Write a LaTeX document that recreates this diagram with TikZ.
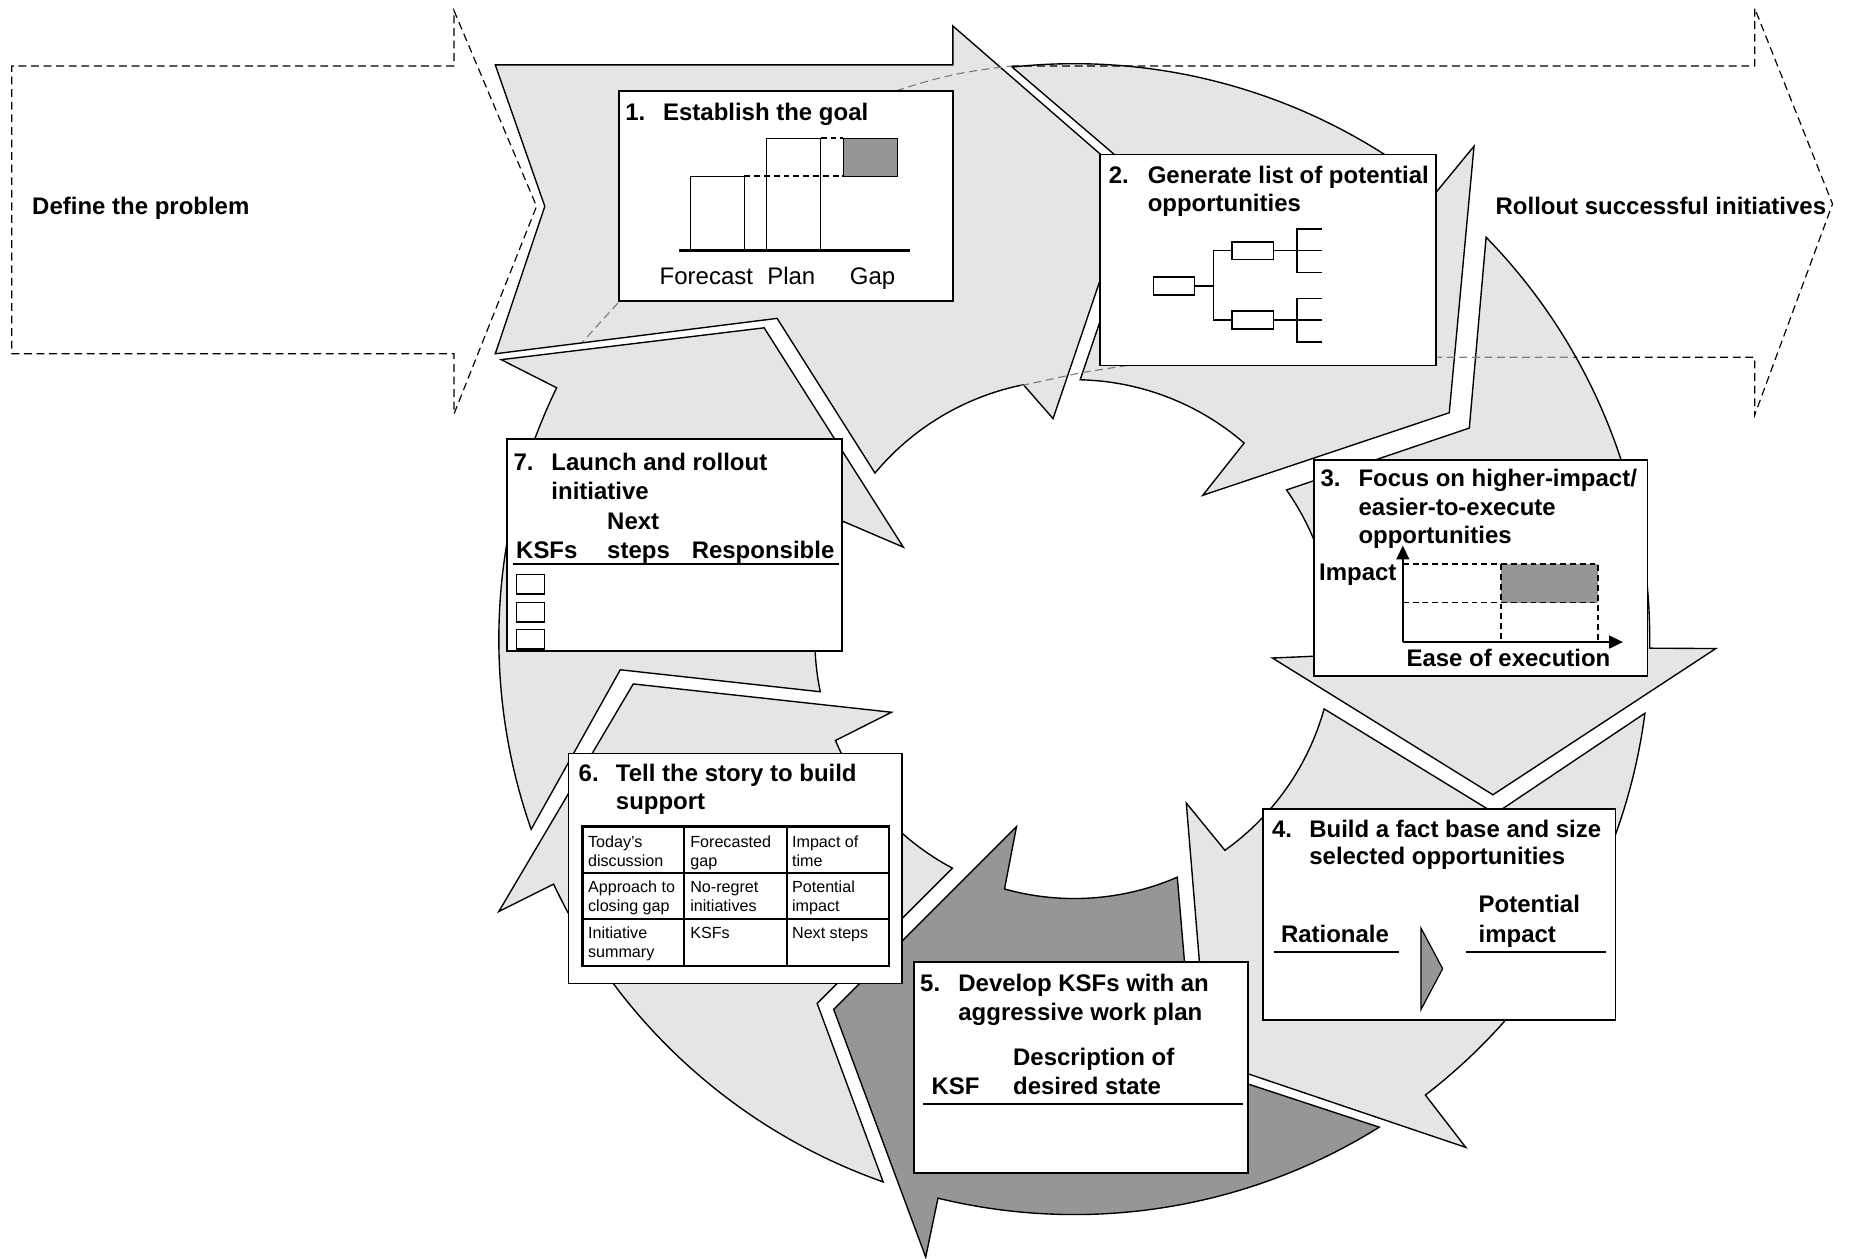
\documentclass[tikz,border=0pt]{standalone}
\usepackage{fontspec}
\setmainfont{Liberation Sans}
\usetikzlibrary{calc,fit,arrows.meta}

\definecolor{ringgray}{gray}{0.9}
\definecolor{stepdark}{gray}{0.59}

\begin{document}
\begin{tikzpicture}[x=0.6pt,y=-0.6pt]
    \tikzstyle{ring}=[fill=ringgray,draw=black,line width=0.7pt]
    \tikzstyle{panel}=[draw=black,fill=white,line width=0.9pt,inner sep=0pt,outer sep=0pt]
    \tikzstyle{ttl}=[font=\fontsize{12.2}{14.4}\selectfont\bfseries,inner sep=0pt,anchor=base west]
    \tikzstyle{lbl}=[font=\fontsize{12.2}{14.4}\selectfont,inner sep=0pt,anchor=base]
    \tikzstyle{cell}=[font=\fontsize{8.2}{9.6}\selectfont,inner sep=0pt,anchor=base west]
    \tikzstyle{outline}=[dash pattern=on 4pt off 2.4pt,line width=0.6pt]
    \tikzstyle{behind}=[outline,draw=gray]
    \tikzstyle{leaf}=[draw,line width=0.8pt,minimum width=21pt,minimum height=9pt,inner sep=0pt]
    \tikzstyle{twig}=[line width=0.8pt]

    \useasboundingbox (0,0) rectangle (1568,1067);
    \coordinate (C) at (911,542);   % centre of the cycle

    % the seven cycle arrows
    \path[ring] (420,55) -- (808,55) -- (808,22) -- (961,155) -- (893,355)
        -- ($(C)+(-101.3:220)$) arc[start angle=-101.3,end angle=-140.2,radius=220]
        -- (659,270) -- (420,300) -- (462,175) -- cycle;
    \path[ring] ($(C)+(-96.2:488)$) arc[start angle=-96.2,end angle=-51,radius=488]
        -- (1250,124) -- (1229,350) -- (1020,420)
        -- ($(C)+(-49.1:220)$) arc[start angle=-49.1,end angle=-88.7,radius=220]
        -- (973,155) -- cycle;
    \path[ring] ($(C)+(-44.3:488)$) arc[start angle=-44.3,end angle=0.9,radius=488]
        -- (1455,550) -- (1266,674) -- (1079,558)
        -- ($(C)+(3.6:220)$) arc[start angle=3.6,end angle=-35.1,radius=220]
        -- (1246,363) -- cycle;
    \path[ring] ($(C)+(7.4:488)$) arc[start angle=7.4,end angle=52.4,radius=488]
        -- (1243,973) -- (1024,899) -- (1006,681)
        -- ($(C)+(54.5:220)$) arc[start angle=54.5,end angle=15.6,radius=220]
        -- (1268,690) -- cycle;
    \path[ring,fill=stepdark] ($(C)+(58:488)$) arc[start angle=58,end angle=103.7,radius=488]
        -- (785,1066) -- (707,856) -- (862,701)
        -- ($(C)+(105.6:220)$) arc[start angle=105.6,end angle=66.6,radius=220]
        -- (1012,904) -- cycle;
    \path[ring] ($(C)+(109.4:488)$) arc[start angle=109.4,end angle=154.8,radius=488]
        -- (423,773) -- (537,580) -- (756,604)
        -- ($(C)+(157:220)$) arc[start angle=157,end angle=118,radius=220]
        -- (693,851) -- cycle;
    \path[ring] ($(C)+(160.7:488)$) arc[start angle=160.7,end angle=205.9,radius=488]
        -- (425,305) -- (648,278) -- (766,464)
        -- ($(C)+(207:220)$) arc[start angle=207,end angle=168.3,radius=220]
        -- (526,568) -- cycle;

    % dashed outer phases
    \draw[behind] (760,77) to[bend left=6] (858,56);
    \draw[behind] (524,257) -- (494,290);
    \draw[behind] (866,327) -- (917,316) -- (962,309) -- (1218,303) -- (1335,303);
    \draw[outline] (858,56) -- (1488,56) -- (1488,7) -- (1554,173) -- (1488,352) -- (1488,303) -- (1335,303);
    \draw[outline] (385,56) -- (10,56) -- (10,300) -- (385,300) -- (385,351) -- (455,175) -- (385,9) -- cycle;
    \node[ttl] (define) at (27,182) {Define the problem};
    \node[ttl] (rollout) at (1268,182) {Rollout successful initiatives};

    % 1
    \node[panel,fit={(525,77) (808,255)}] (b1) {};
    \node[ttl] (t1n) at (530,102) {1.};
    \node[ttl] (t1a) at (562,102) {Establish the goal};
    \draw[line width=0.5pt] (585.7,212.6) rectangle (631.1,149.3);
    \draw[line width=0.5pt] (650,212.6) rectangle (696,117.3);
    \draw[line width=0.5pt,fill=stepdark] (715,149.3) rectangle (760.9,117.3);
    \draw[line width=0.9pt,dash pattern=on 3pt off 2pt] (631.1,149.3) -- (715,149.3) (696,117.3) -- (715,117.3);
    \draw[line width=1.8pt] (576,212.6) -- (772,212.6);
    \node[lbl] (fc) at (599,241) {Forecast};
    \node[lbl] (pl) at (671,241) {Plan};
    \node[lbl] (gp) at (740,241) {Gap};

    % 2
    \node[panel,fit={(933,131) (1218,310)}] (b2) {};
    \node[ttl] (t2n) at (940,156) {2.};
    \node[ttl] (t2a) at (973,156) {Generate list of potential};
    \node[ttl] (t2b) at (973,179.5) {opportunities};
    \node[leaf] (r0) at (995.5,242.5) {};
    \node[leaf] (r1) at (1062.3,212.6) {};
    \node[leaf] (r2) at (1062.3,271.4) {};
    \draw[twig] (r0.east) -- ++(16,0);
    \draw[twig] (r1.west) -| (1029,271.4) -- (r2.west);
    \draw[twig] (r1.east) -- (1121,212.6);
    \draw[twig] (r2.east) -- (1121,271.4);
    \draw[twig] (1121,194) -| (1100,231) -- (1121,231);
    \draw[twig] (1121,253) -| (1100,290) -- (1121,290);

    % 3
    \node[panel,fit={(1114,390) (1397,573)}] (b3) {};
    \node[ttl] (t3n) at (1119.5,412.5) {3.};
    \node[ttl] (t3a) at (1151.7,412.5) {Focus on higher-impact/};
    \node[ttl] (t3b) at (1151.7,437) {easier-to-execute};
    \node[ttl] (t3c) at (1151.7,460.5) {opportunities};
    \fill[stepdark] (1272.8,478.5) rectangle (1355.3,511.1);
    \draw[line width=0.8pt,dash pattern=on 3pt off 2pt] (1189.6,478.5) -- (1355.3,478.5) -- (1355.3,544.5)
        (1189.6,511.1) -- (1355.3,511.1) (1272.8,478.5) -- (1272.8,544.5);
    \coordinate (o3) at (1189.6,544.5);
    \draw[line width=1pt,-{Triangle[length=7pt,width=6.5pt]}] (o3) -- (1189.6,462.7);
    \draw[line width=1pt,-{Triangle[length=7pt,width=6.5pt]}] (o3) -- (1376.3,544.5);
    \node[ttl,anchor=base east] (imp) at (1184.5,492) {Impact};
    \node[ttl] (ease) at (1192.4,565.5) {Ease of execution};

    % 4
    \node[panel,fit={(1071,686) (1370,865)}] (b4) {};
    \node[ttl] (t4n) at (1078.4,710) {4.};
    \node[ttl] (t4a) at (1110,710) {Build a fact base and size};
    \node[ttl] (t4b) at (1110,733.4) {selected opportunities};
    \node[ttl] (rat) at (1086,799) {Rationale};
    \node[ttl] (pot) at (1253.6,774) {Potential};
    \node[ttl] (potb) at (1253.6,799) {impact};
    \draw[line width=1pt] (1080,807.6) -- (1186,807.6) (1243,807.6) -- (1362.3,807.6);
    \draw[line width=0.6pt,fill=stepdark] (1205,787) -- (1223.4,821.5) -- (1205,856.2) -- cycle;

    % 5
    \node[panel,fit={(775,816) (1058,995)}] (b5) {};
    \node[ttl] (t5n) at (780,841) {5.};
    \node[ttl] (t5a) at (812.4,841) {Develop KSFs with an};
    \node[ttl] (t5b) at (812.4,865) {aggressive work plan};
    \node[ttl] (ksf) at (789.7,928) {KSF};
    \node[ttl] (desc) at (858.8,903.6) {Description of};
    \node[ttl] (descb) at (858.8,928) {desired state};
    \draw[line width=1pt] (783,936.2) -- (1054.2,936.2);

    % 6
    \node[panel,fit={(482,639) (765,834)}] (b6) {};
    \node[ttl] (t6n) at (490.4,662.8) {6.};
    \node[ttl] (t6a) at (522,662.8) {Tell the story to build};
    \node[ttl] (t6b) at (522,686.3) {support};
    \draw[line width=1.2pt] (494,701) rectangle (754,819);
    \draw[line width=1pt] (580.3,701) -- (580.3,819) (667.1,701) -- (667.1,819)
        (494,740) -- (754,740) (494,779.4) -- (754,779.4);
    \foreach \n/\x/\y/\txt in {1/498.4/718.5/Today’s, 2/498.4/734.5/discussion,
        3/585.1/718.5/Forecasted, 4/585.1/734.5/gap, 5/671.4/718.5/Impact of, 6/671.4/734.5/time,
        7/498.4/757/Approach to, 8/498.4/773/closing gap, 9/585.1/757/No-regret,
        10/585.1/773/initiatives, 11/671.4/757/Potential, 12/671.4/773/impact,
        13/498.4/796/Initiative, 14/498.4/812/summary, 15/585.1/796/KSFs, 16/671.4/796/Next steps}
        \node[cell] (c\n) at (\x,\y) {\txt};

    % 7
    \node[panel,fit={(430,372) (714,552)}] (b7) {};
    \node[ttl] (t7n) at (435.2,398.8) {7.};
    \node[ttl] (t7a) at (467.3,398.8) {Launch and rollout};
    \node[ttl] (t7b) at (467.3,423.5) {initiative};
    \node[ttl] (next) at (514.6,449.4) {Next};
    \node[ttl] (ksfs) at (437.4,473.8) {KSFs};
    \node[ttl] (steps) at (514.6,473.8) {steps};
    \node[ttl] (resp) at (586.3,473.8) {Responsible};
    \draw[line width=1.3pt] (435,478.3) -- (711.5,478.3);
    \foreach \y in {487.2,511,533.8}
        \draw[line width=0.8pt] (438.1,\y) rectangle ++(23.8,16.5);
\end{tikzpicture}
\end{document}
